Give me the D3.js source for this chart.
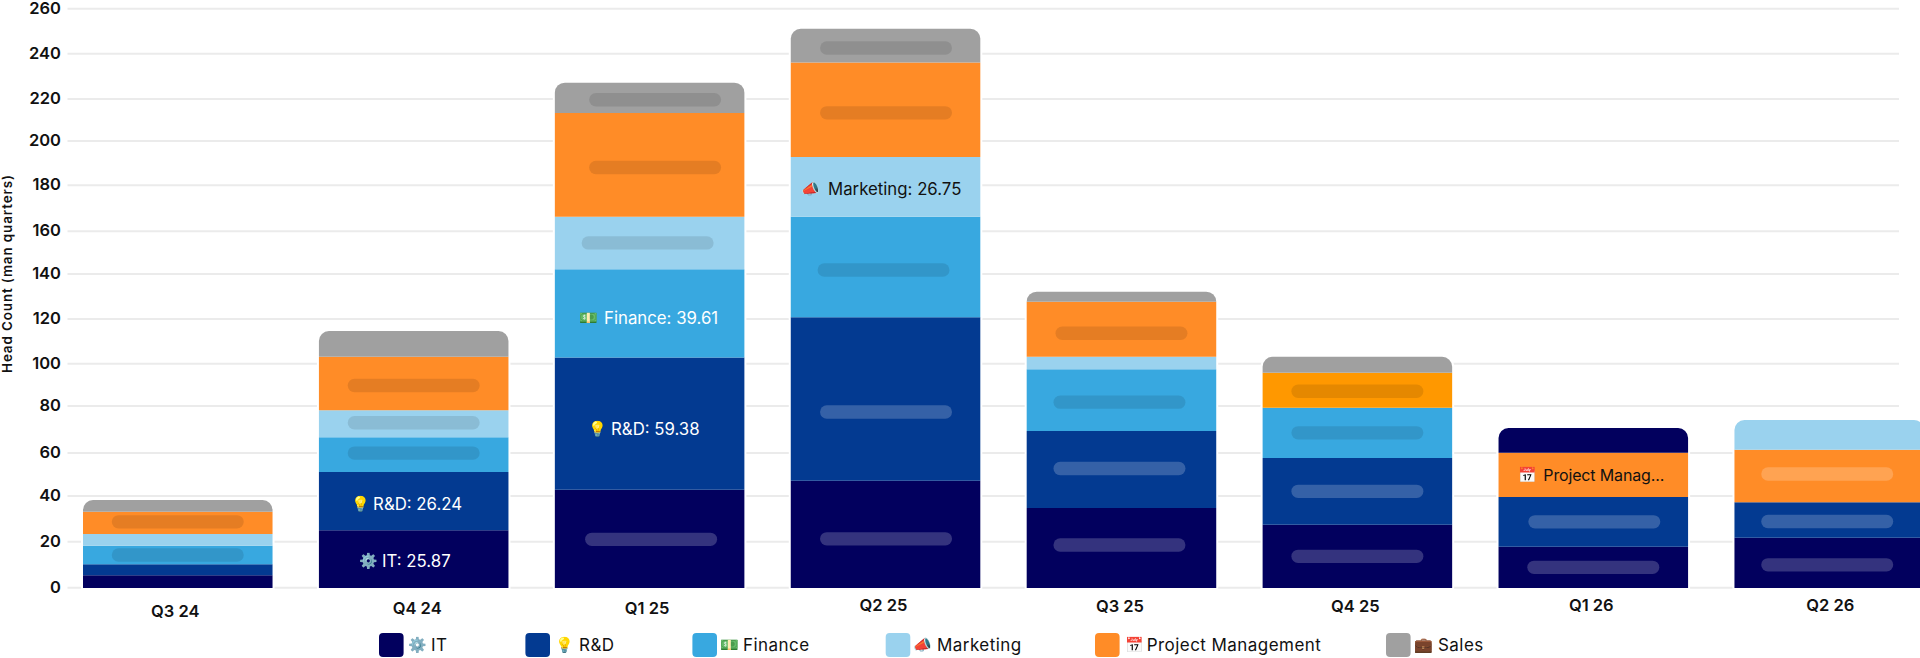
<!DOCTYPE html>
<html><head><meta charset="utf-8">
<script src="https://cdn.jsdelivr.net/npm/d3@7"></script>
<style>
html,body{margin:0;padding:0;background:#fff}
svg{display:block}
text{font-family:Inter,"Noto Color Emoji","Noto Sans",sans-serif}
</style></head><body><div id="chart"></div>
<script>
// ---- data ----
const categories = ["Q3 24","Q4 24","Q1 25","Q2 25","Q3 25","Q4 25","Q1 26","Q2 26"];
const seriesNames = ["IT","R&D","Finance","Marketing","Project Management","Sales"];
const seriesIcons = ["⚙️","💡","💵","📣","📅","💼"];
const seriesColors = ["#02005e","#033a91","#38a8e0","#9ad2ee","#ff8c27","#a0a0a0"];
const itValues        = [5.70,25.87,44.12,48.16,35.90,28.41,18.54,22.58];
const rdValues        = [4.94,26.24,59.38,73.34,34.57,29.94,22.30,15.88];
const financeValues   = [8.35,15.53,39.61,45.15,27.69,22.57,0,0];
const marketingValues = [5.25,12.12,23.54,26.75,5.66,0,0,0];
const projectValues   = [10.01,24.06,46.55,42.40,24.69,15.71,19.89,23.61];
const salesValues     = [5.25,11.53,13.60,15.20,4.49,7.18,0,0];
// unlabelled caps on the last two bars, drawn in reused palette colours
const capValues = [0,0,0,0,0,0,11.09,13.33];
const capColors = [null,null,null,null,null,null,"#02005e","#9ad2ee"];
const yTicks = [0,20,40,60,80,100,120,140,160,180,200,220,240,260];
// ---- layout constants ----
const W=1920,H=658;
const yBase=588, yTop260=8.7;
const tickPixels=[587.7,541.7,496,453,406,363.7,319,274,231.3,185.3,141,99,53.7,8.7];
const xLabelDy=[6,3.3,3.3,0,1,1,0,0];
const xLabelDx=[-2.5,3.5,-2.5,-2,-1.5,-2,-2,1];
// pills: [category, series, dx, y-centre nudge]
const pills=[[0,4,0,-1],[0,2,0,0],
[1,4,0,2],[1,3,0,-1],[1,2,0,-1.5],
[2,5,5.5,2],[2,4,5.5,2.7],[2,3,-2,0],[2,0,1.5,0.5],
[3,5,.5,2.3],[3,4,.5,3],[3,2,-2,3],[3,1,.5,13],[3,0,.5,4.5],
[4,4,0,4],[4,2,-2,2],[4,1,-2,-1],[4,0,-2,-3],
[5,4,0,1],[5,2,0,0],[5,1,0,0],[5,0,0,0],
[6,1,1,0],[6,0,0,0],
[7,4,-2,-2],[7,1,-2,1.5],[7,0,-2,2]];
// value labels: [category, series, colour, icon dx, text dx, dy] relative to the segment centre
const valueLabels=[
 [1,0,"#fff",-44.6,-31.6,1.3],
 [1,1,"#fff",-53,-40.6,2.7],
 [2,1,"#fff",-51.6,-38.6,5.5],
 [2,2,"#fff",-60.6,-45.6,4.3],
 [3,3,"#111",-74.5,-57.5,2]];
const legendPos=[379,525.4,692.4,885.7,1095,1386];
const legendIconX=[418,565,730,923,1134.7,1424];
const legendTextX=[431,579,743,937,1146.7,1438];

const valueSeries=[itValues,rdValues,financeValues,marketingValues,projectValues,salesValues,capValues];
const svg=d3.select("#chart").append("svg").attr("width",W).attr("height",H);

const y=d3.scaleLinear().domain([0,260]).range([yBase,yTop260]);
const yGrid=d3.scaleLinear().domain(yTicks).range(tickPixels);
const x=d3.scaleBand().domain(categories).range([83,1924]).paddingInner(0.1966).paddingOuter(0);

// grid + y labels
const g=svg.append("g");
g.selectAll("line").data(yTicks).join("line")
 .attr("x1",67.5).attr("x2",1899).attr("y1",d=>yGrid(d)).attr("y2",d=>yGrid(d))
 .attr("stroke","#ebebeb").attr("stroke-width",2);
g.selectAll("text").data(yTicks).join("text")
 .attr("x",61).attr("y",d=>yGrid(d)-1).attr("dy","0.36em").attr("text-anchor","end")
 .attr("font-size",16.5).attr("font-weight",600).attr("fill","#111").text(d=>d);
svg.append("text").attr("transform","translate(12,274) rotate(-90)").attr("text-anchor","middle")
 .attr("font-size",13.5).attr("font-weight",600).attr("fill","#111").text("Head Count (man quarters)")
 .attr("textLength",198).attr("lengthAdjust","spacing");

// stacks
const segs=[];
categories.forEach((c,i)=>{
  let acc=0; let last=null;
  valueSeries.forEach((vals,s)=>{
    const v=vals[i];
    if(v>0){ last={cat:c,i,s,y0:acc,y1:acc+v,top:false}; segs.push(last); acc+=v; }
  });
  last.top=true;
});
function segColor(d){
  if(d.s===6) return capColors[d.i];
  if(d.s===4&&d.cat==="Q4 25") return "#ff9800";
  return seriesColors[d.s];
}
function segPath(d){
  const p=d3.path(),x0=x(d.cat),x1=x0+x.bandwidth(),t=y(d.y1),b=y(d.y0),r=d.top?Math.min(10,b-t):0;
  p.moveTo(x0,b);p.lineTo(x0,t+r);
  if(r){p.arcTo(x0,t,x0+r,t,r);p.lineTo(x1-r,t);p.arcTo(x1,t,x1,t+r,r);}else p.lineTo(x1,t);
  p.lineTo(x1,b);p.closePath();return p.toString();
}
// white halo separating bars from gridlines
svg.append("g").selectAll("path").data(segs).join("path").attr("d",segPath)
 .attr("fill","#fff").attr("stroke","#fff").attr("stroke-width",4);
svg.append("g").selectAll("path").data(segs).join("path").attr("d",segPath).attr("fill",segColor);

// placeholder pills
const segAt=(i,s)=>segs.find(d=>d.i===i&&d.s===s);
const segMid=(i,s)=>{const sg=segAt(i,s);return (y(sg.y0)+y(sg.y1))/2;};
const bandMid=i=>x(categories[i])+x.bandwidth()/2;
svg.append("g").selectAll("rect").data(pills).join("rect")
 .attr("width",132).attr("height",13.4).attr("rx",6.7)
 .attr("x",d=>bandMid(d[0])+d[2]-66)
 .attr("y",d=>segMid(d[0],d[1])+d[3]-6.7)
 .attr("fill",d=>(d[1]<=1||(d[0]===7&&d[1]===4))?"rgba(255,255,255,.2)":"rgba(0,0,0,.1)");

// value labels
const lbl=svg.append("g").selectAll("g").data(valueLabels).join("g")
 .attr("transform",d=>`translate(${bandMid(d[0])},${segMid(d[0],d[1])+d[5]})`);
lbl.append("text").attr("x",d=>d[3]).attr("dy","0.36em").attr("text-anchor","middle").attr("font-size",15)
 .text(d=>seriesIcons[d[1]]);
lbl.append("text").attr("x",d=>d[4]).attr("dy","0.36em").attr("font-size",16.8)
 .attr("fill",d=>d[2]).text(d=>`${seriesNames[d[1]]}: ${valueSeries[d[1]][d[0]].toFixed(2)}`);
// truncated label on Q1 26
const pmG=svg.append("g").attr("transform",`translate(${bandMid(6)},${segMid(6,4)})`);
pmG.append("text").attr("x",-66).attr("dy","0.36em").attr("text-anchor","middle").attr("font-size",15).text(seriesIcons[4]);
pmG.append("text").attr("x",-50).attr("dy","0.36em").attr("font-size",16).attr("textLength",121).attr("lengthAdjust","spacing").attr("fill","#111").text("Project Manag...");

// x labels
svg.append("g").selectAll("text").data(categories).join("text")
 .attr("x",(d,i)=>bandMid(i)+xLabelDx[i]).attr("y",(d,i)=>605+xLabelDy[i]).attr("dy","0.36em")
 .attr("text-anchor","middle").attr("font-size",16.5).attr("font-weight",600).attr("fill","#111").text(d=>d);

// legend
const lg=svg.append("g").selectAll("g").data(seriesNames).join("g");
lg.append("rect").attr("x",(d,i)=>legendPos[i]).attr("y",633).attr("width",24.6).attr("height",24).attr("rx",4)
 .attr("fill",(d,i)=>seriesColors[i]);
lg.append("text").attr("x",(d,i)=>legendIconX[i]).attr("y",645).attr("dy","0.36em").attr("text-anchor","middle")
 .attr("font-size",15).text((d,i)=>seriesIcons[i]);
lg.append("text").attr("x",(d,i)=>legendTextX[i]).attr("y",645).attr("dy","0.36em")
 .attr("font-size",17).style("letter-spacing","0.45px").attr("fill","#111").text(d=>d);
</script></body></html>
